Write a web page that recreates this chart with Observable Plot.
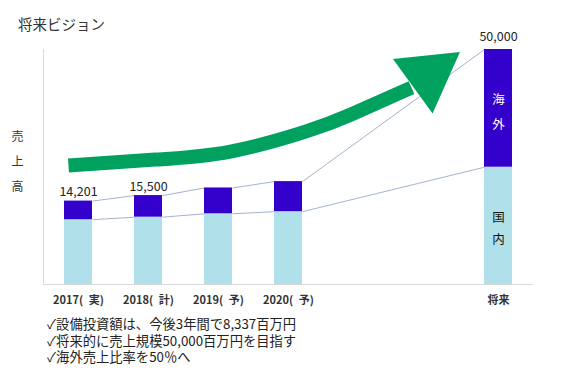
<!DOCTYPE html>
<html><head><meta charset="utf-8">
<script src="https://cdn.jsdelivr.net/npm/d3@7"></script>
<script src="https://cdn.jsdelivr.net/npm/@observablehq/plot@0.6"></script>
<style>
body{margin:0;background:#fff;font-family:"Noto Sans CJK JP",sans-serif;}
#wrap{position:relative;width:564px;height:372px;}
#chart svg{position:absolute;left:0;top:0;}
#title{position:absolute;left:18px;top:13px;font-size:14.5px;line-height:22px;color:#333;}
#notes{position:absolute;left:47px;top:316px;font-size:13.3px;line-height:16.5px;color:#222;}
#notes div{height:16.5px;}
</style></head><body>
<div id="wrap"><div id="chart"></div><div id="title"></div><div id="notes"></div></div>
<script>
// ---- data ----
const titleText = "将来ビジョン";
const categories = ["2017( 実)", "2018( 計)", "2019( 予)", "2020( 予)", "将来"];
const slots = [0, 1, 2, 3, 6];               // position of each category on the axis
const totals = [14201, 15500, 17300, 18800, 50000];
const domestic = [9800, 10400, 11200, 11700, 22200];
const showLabel = [true, true, false, false, true];
const overseasName = "海外";
const domesticName = "国内";
const yLabel = "売上高";
const notes = [
  "✓設備投資額は、今後3年間で8,337百万円",
  "✓将来的に売上規模50,000百万円を目指す",
  "✓海外売上比率を50％へ"
];
const yDomain = [-5500, 50000];
const xDomain = [-0.5, 6.5];
// decorative growth arrow (in axis units)
const arrowPath = [[-0.143, 22600], [1.1, 24000], [2.171, 25900], [3.243, 30600], [3.886, 34600], [4.757, 41000]];
const arrowHead = [[5.0, 44000]];

// ---- build ----
const rows = categories.map((c, i) => ({c, x: slots[i], total: totals[i], dom: domestic[i], show: showLabel[i]}));
const pairs = d3.pairs(rows);
const half = 0.2;
const cOver = "#3300cc", cDom = "#b0e0e9", cLink = "#8c9fc2", cGreen = "#00a15f";
const vert = s => [...s].join("\n");
const fmt = d3.format(",");
const last = rows[rows.length - 1];

const chart = Plot.plot({
  width: 564, height: 372,
  marginLeft: 43, marginRight: 31, marginTop: 49, marginBottom: 88,
  x: {domain: xDomain, axis: null},
  y: {domain: yDomain, axis: null},
  style: {fontFamily: "'Noto Sans CJK JP', sans-serif", background: "white"},
  marks: [
    Plot.ruleY([yDomain[0]], {stroke: "#d9d9d9"}),
    Plot.ruleX([xDomain[0]], {stroke: "#d9d9d9"}),
    Plot.link(pairs, {x1: p => p[0].x + half, y1: p => p[0].total, x2: p => p[1].x - half, y2: p => p[1].total, stroke: cLink, strokeWidth: 0.8}),
    Plot.link(pairs, {x1: p => p[0].x + half, y1: p => p[0].dom, x2: p => p[1].x - half, y2: p => p[1].dom, stroke: cLink, strokeWidth: 0.8}),
    Plot.rectY(rows, {x1: d => d.x - half, x2: d => d.x + half, y1: () => yDomain[0], y2: "dom", fill: cDom}),
    Plot.rectY(rows, {x1: d => d.x - half, x2: d => d.x + half, y1: "dom", y2: "total", fill: cOver}),
    Plot.line(arrowPath, {x: d => d[0], y: d => d[1], stroke: cGreen, strokeWidth: 14, curve: "natural", strokeLinecap: "butt"}),
    Plot.dot(arrowHead, {x: d => d[0], y: d => d[1], symbol: "triangle", r: 25, fill: cGreen, rotate: 54}),
    Plot.text(rows.filter(d => d.show && d !== last), {x: "x", y: "total", text: d => fmt(d.total), lineAnchor: "bottom", dy: -5, fontSize: 12.5, fill: "#222"}),
    Plot.text([last], {x: "x", y: "total", text: d => fmt(d.total), lineAnchor: "bottom", dy: -9, fontSize: 12.5, fill: "#222"}),
    Plot.text([last], {x: "x", y: d => (d.dom + d.total) / 2, text: () => vert(overseasName), fill: "white", fontSize: 12.5, lineHeight: 2}),
    Plot.text([last], {x: "x", y: d => (yDomain[0] + d.dom) / 2, text: () => vert(domesticName), fill: "#111", fontSize: 12.5, lineHeight: 1.75}),
    Plot.text([yLabel], {frameAnchor: "left", text: d => vert(d), textAnchor: "middle", dx: -26, dy: -9, fontSize: 12, lineHeight: 2.1, fill: "#333"}),
    Plot.axisX(slots, {label: null, tickSize: 0, tickPadding: 12, tickFormat: v => categories[slots.indexOf(v)].replace(" ", "\u2002"), fontSize: 11, fontWeight: "bold", fill: "#333"})
  ]
});
document.getElementById("chart").append(chart);
document.getElementById("title").textContent = titleText;
document.getElementById("notes").innerHTML = notes.map(n => `<div>${n}</div>`).join("");
</script>
</body></html>
